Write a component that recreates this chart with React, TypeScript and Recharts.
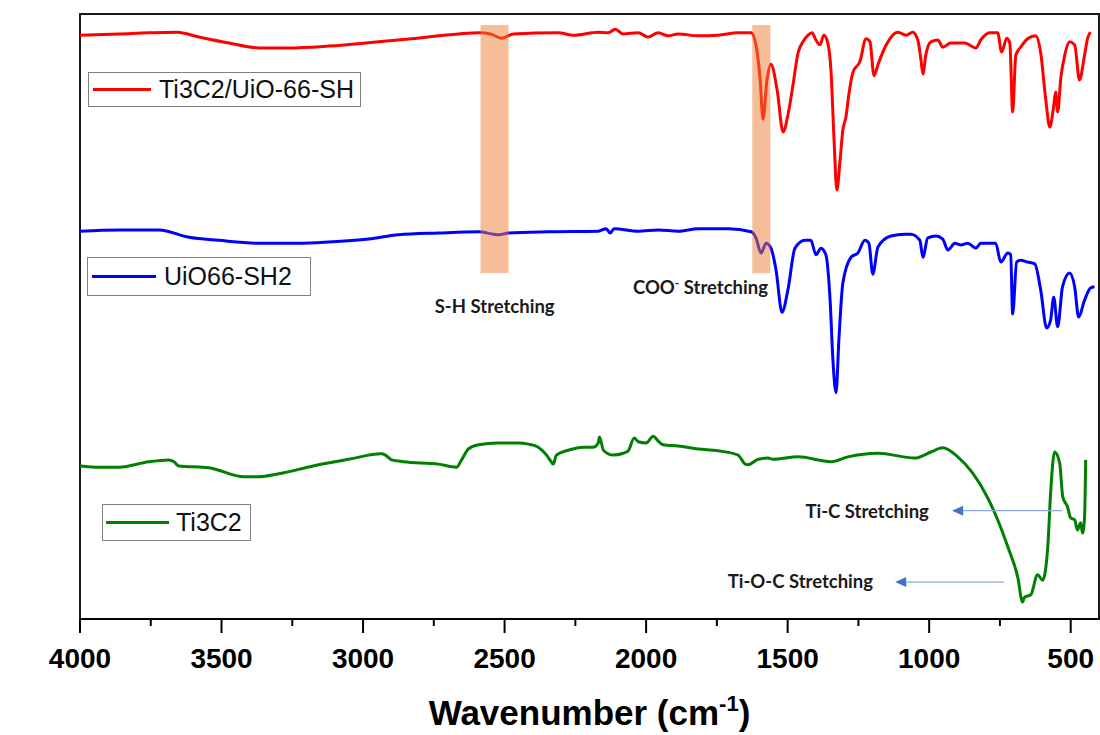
import React from "react";
import {
  LineChart,
  Line,
  XAxis,
  YAxis,
  ReferenceArea,
  ReferenceLine,
  ReferenceDot,
} from "recharts";

// FTIR spectra, wavenumber (cm-1) vs. offset transmittance (%T, stacked)
const compositeWn = [
  4000, 3862, 3757, 3658, 3580, 3474, 3368, 3263, 3122, 2945, 2829, 2663, 2592, 2550, 2511, 2469,
  2310, 2257, 2169, 2134, 2109, 2081, 2028, 1993, 1957, 1922, 1887, 1816, 1746, 1675, 1629, 1612,
  1597, 1587, 1573, 1559, 1537, 1516, 1499, 1481, 1463, 1446, 1428, 1414, 1400, 1386, 1372, 1358,
  1347, 1336, 1326, 1315, 1305, 1294, 1284, 1269, 1245, 1223, 1209, 1195, 1181, 1156, 1111, 1082,
  1058, 1040, 1029, 1022, 1012, 994, 969, 952, 924, 874, 835, 818, 786, 758, 744, 726, 715, 705,
  694, 677, 652, 624, 606, 588, 574, 560, 553, 546, 535, 521, 504, 486, 469, 451, 440, 430,
];
const compositeT = [
  96.5, 96.7, 96.9, 97.0, 96.2, 95.2, 94.4, 94.4, 94.7, 95.4, 95.9, 96.7, 96.9, 96.7, 96.0, 96.7,
  96.9, 96.5, 97.0, 96.9, 97.5, 96.7, 96.9, 96.2, 96.9, 96.4, 96.7, 96.4, 96.5, 96.9, 96.9, 94.9,
  89.1, 82.6, 89.1, 91.7, 87.4, 80.5, 83.3, 88.3, 93.6, 95.4, 96.5, 96.9, 95.7, 94.9, 96.5, 95.2,
  90.7, 79.2, 70.9, 75.7, 80.8, 83.0, 86.6, 90.4, 92.1, 95.9, 95.4, 89.8, 91.6, 94.5, 97.0, 96.5,
  97.0, 95.7, 92.4, 90.1, 93.2, 95.4, 95.7, 94.5, 95.2, 95.2, 94.4, 95.7, 96.9, 96.9, 93.7, 96.0,
  95.2, 83.8, 93.2, 94.5, 95.9, 96.4, 93.6, 85.8, 81.3, 84.8, 87.1, 83.8, 89.4, 93.2, 95.4, 94.9,
  89.1, 93.2, 96.0, 97.0,
];

const uioWn = [
  4000, 3862, 3721, 3615, 3510, 3361, 3227, 3122, 2980, 2875, 2733, 2592, 2539, 2522, 2486, 2345,
  2169, 2141, 2127, 2113, 2028, 1957, 1887, 1816, 1710, 1629, 1612, 1594, 1576, 1559, 1541, 1520,
  1499, 1474, 1439, 1418, 1400, 1382, 1365, 1350, 1340, 1329, 1319, 1305, 1276, 1252, 1227, 1213,
  1199, 1181, 1135, 1086, 1065, 1033, 1022, 1005, 976, 952, 934, 909, 888, 864, 835, 818, 765, 747,
  722, 712, 705, 691, 677, 652, 627, 606, 585, 571, 560, 546, 529, 504, 486, 472, 451, 430, 416,
];
const uioT = [
  64.1, 64.3, 64.3, 63.1, 62.6, 62.1, 62.1, 62.3, 62.8, 63.5, 63.8, 64.0, 63.6, 63.5, 63.8, 64.0,
  64.1, 64.5, 63.8, 64.5, 64.1, 64.3, 64.1, 64.5, 64.5, 64.0, 63.0, 60.5, 62.1, 61.3, 57.7, 50.7,
  54.4, 61.3, 62.6, 62.6, 60.2, 61.3, 60.2, 52.7, 42.8, 37.4, 46.1, 55.5, 59.8, 60.5, 62.6, 62.1,
  57.0, 61.5, 63.3, 63.6, 63.6, 62.6, 59.8, 63.0, 63.3, 62.8, 61.0, 62.1, 61.8, 62.1, 61.3, 62.1,
  62.1, 59.0, 60.5, 60.2, 50.4, 59.0, 59.3, 59.0, 58.7, 54.4, 48.1, 49.4, 53.2, 48.3, 54.9, 57.2,
  54.9, 49.9, 52.7, 54.7, 54.9,
];

const mxeneWn = [
  4000, 3933, 3862, 3757, 3686, 3668, 3651, 3545, 3421, 3368, 3298, 3157, 3051, 2935, 2921, 2899,
  2857, 2733, 2670, 2652, 2628, 2592, 2522, 2451, 2416, 2381, 2352, 2335, 2328, 2317, 2275, 2222,
  2187, 2169, 2165, 2158, 2151, 2116, 2081, 2063, 2042, 2028, 2000, 1975, 1957, 1940, 1887, 1816,
  1746, 1675, 1650, 1640, 1604, 1569, 1552, 1463, 1347, 1287, 1181, 1051, 994, 952, 899, 846, 793,
  758, 722, 687, 670, 663, 641, 617, 599, 581, 571, 557, 539, 528, 511, 500, 486, 476, 465, 458,
  451, 447,
];
const mxeneT = [
  25.3, 25.1, 25.1, 26.0, 26.3, 26.0, 25.3, 25.0, 23.5, 23.5, 24.0, 25.5, 26.4, 27.3, 27.1, 26.3,
  26.0, 25.6, 25.1, 26.3, 28.1, 28.8, 29.1, 29.1, 28.9, 28.4, 27.1, 26.0, 25.6, 27.1, 27.9, 28.4,
  28.4, 29.1, 30.1, 29.1, 27.9, 27.1, 27.4, 27.8, 29.9, 29.3, 29.1, 30.2, 29.4, 28.8, 28.6, 28.1,
  27.8, 27.1, 25.6, 25.5, 26.4, 26.6, 26.4, 26.8, 26.0, 26.8, 27.4, 26.6, 27.6, 28.3, 26.8, 24.1,
  20.0, 16.4, 11.9, 6.9, 2.8, 3.6, 4.0, 7.3, 6.4, 11.9, 20.8, 27.6, 25.8, 20.2, 18.5, 16.7, 16.4,
  14.7, 15.9, 14.2, 16.9, 26.3,
];

const majorTicks = [4000, 3500, 3000, 2500, 2000, 1500, 1000, 500];
const allTicks = [4000, 3750, 3500, 3250, 3000, 2750, 2500, 2250, 2000, 1750, 1500, 1250, 1000, 750, 500];

// plotted window
const wnRange = [400, 4000];
const tRange = [0, 100];

// highlighted bands (cm-1) and the %T span they cover
const shBand = [2585, 2486];
const cooBand = [1625, 1561];
const bandT = [57.2, 98.2];

const zip = (wn: number[], t: number[]) => wn.map((w, i) => ({ wn: w, t: t[i] }));
const compositeData = zip(compositeWn, compositeT);
const uioData = zip(uioWn, uioT);
const mxeneData = zip(mxeneWn, mxeneT);

const ARIAL = "'Liberation Sans', Arial, sans-serif";
const NOTE_FONT = "Lato, 'Open Sans', sans-serif";

const AxisTick = (props: any) => {
  const { x, y, payload } = props;
  const major = majorTicks.includes(payload.value);
  return (
    <g>
      <line x1={x} x2={x} y1={y} y2={y + (major ? 14 : 7)} stroke="#000" strokeWidth={2} />
      {major && (
        <text
          x={x}
          y={y + 49}
          textAnchor="middle"
          fontFamily={ARIAL}
          fontWeight="bold"
          fontSize={28}
          fill="#000"
        >
          {payload.value}
        </text>
      )}
    </g>
  );
};

const Arrow = (props: any) => {
  const { x1, y1, x2, y2 } = props;
  // shaft from the first point, head at the second
  const dir = x2 < x1 ? -1 : 1;
  const baseX = x2 - dir * 11;
  return (
    <g>
      <line x1={x1} y1={y1} x2={baseX} y2={y2} stroke="#8FAADC" strokeWidth={1.2} />
      <polygon points={`${x2},${y2} ${baseX},${y2 - 5} ${baseX},${y2 + 5}`} fill="#4472C4" />
    </g>
  );
};

const note = (text: React.ReactNode) => (props: any) => (
  <text
    x={props.cx}
    y={props.cy}
    textAnchor="middle"
    fontFamily={NOTE_FONT}
    fontWeight="bold"
    fontSize={18.5}
    fill="#1a1a1a"
  >
    {text}
  </text>
);

const LegendBox = ({
  left,
  top,
  width,
  height,
  color,
  lineLeft,
  lineWidth,
  textLeft,
  label,
}: {
  left: number;
  top: number;
  width: number;
  height: number;
  color: string;
  lineLeft: number;
  lineWidth: number;
  textLeft: number;
  label: string;
}) => (
  <div
    style={{
      position: "absolute",
      left,
      top,
      width,
      height,
      boxSizing: "border-box",
      border: "1px solid #808080",
      background: "#fff",
    }}
  >
    <div
      style={{
        position: "absolute",
        left: lineLeft,
        top: height / 2 - 2.5,
        width: lineWidth,
        height: 3,
        background: color,
      }}
    />
    <div
      style={{
        position: "absolute",
        left: textLeft,
        top: 0,
        height: height - 2,
        lineHeight: `${height - 2}px`,
        fontFamily: ARIAL,
        fontSize: 25,
        color: "#111",
        whiteSpace: "nowrap",
      }}
    >
      {label}
    </div>
  </div>
);

export default function App() {
  return (
    <div style={{ position: "absolute", left: 0, top: 0, width: 1100, height: 735, background: "#fff" }}>
      <LineChart width={1100} height={735} margin={{ top: 14, right: 1, bottom: 0, left: 80 }}>
        <XAxis
          dataKey="wn"
          type="number"
          domain={wnRange}
          reversed
          allowDataOverflow
          ticks={allTicks}
          interval={0}
          tickSize={0}
          tickMargin={0}
          tickLine={false}
          tick={<AxisTick />}
          height={116}
          axisLine={{ stroke: "#000", strokeWidth: 2 }}
          label={{
            content: (p: any) => {
              const vb = p.viewBox;
              return (
                <text
                  x={vb.x + vb.width / 2}
                  y={vb.y + 106}
                  textAnchor="middle"
                  fontFamily={ARIAL}
                  fontWeight="bold"
                  fontSize={35}
                  fill="#000"
                >
                  Wavenumber (cm
                  <tspan fontSize={22} dy={-14}>-1</tspan>
                  <tspan dy={14}>)</tspan>
                </text>
              );
            },
          }}
        />
        <YAxis
          type="number"
          domain={tRange}
          width={0}
          tick={false}
          tickLine={false}
          axisLine={{ stroke: "#000", strokeWidth: 2.5 }}
          label={{
            content: (p: any) => {
              const vb = p.viewBox;
              return (
                <text
                  x={27}
                  y={vb.y + 276}
                  transform={`rotate(-90, 27, ${vb.y + 276})`}
                  textAnchor="middle"
                  dominantBaseline="central"
                  fontFamily={ARIAL}
                  fontWeight="bold"
                  fontSize={36}
                  fill="#000"
                >
                  %T
                </text>
              );
            },
          }}
        />

        {/* plot frame */}
        <ReferenceArea
          x1={wnRange[0]}
          x2={wnRange[1]}
          y1={tRange[0]}
          y2={tRange[1]}
          fill="none"
          stroke="#1a1a1a"
          strokeWidth={2}
        />

        <Line
          data={compositeData}
          dataKey="t"
          type="monotone"
          stroke="#FF0000"
          strokeWidth={3}
          dot={false}
          isAnimationActive={false}
        />
        <Line
          data={uioData}
          dataKey="t"
          type="monotone"
          stroke="#0000FF"
          strokeWidth={3}
          dot={false}
          isAnimationActive={false}
        />
        <Line
          data={mxeneData}
          dataKey="t"
          type="monotone"
          stroke="#008000"
          strokeWidth={3}
          dot={false}
          isAnimationActive={false}
        />

        <ReferenceArea
          x1={shBand[0]}
          x2={shBand[1]}
          y1={bandT[0]}
          y2={bandT[1]}
          fill="#ED7D31"
          fillOpacity={0.5}
          stroke="none"
          zIndex={1500}
        />
        <ReferenceArea
          x1={cooBand[0]}
          x2={cooBand[1]}
          y1={bandT[0]}
          y2={bandT[1]}
          fill="#ED7D31"
          fillOpacity={0.5}
          stroke="none"
          zIndex={1500}
        />

        <ReferenceLine
          segment={[
            { x: 531, y: 17.9 },
            { x: 919, y: 17.9 },
          ]}
          shape={<Arrow />}
        />
        <ReferenceLine
          segment={[
            { x: 735, y: 6.1 },
            { x: 1120, y: 6.1 },
          ]}
          shape={<Arrow />}
        />

        <ReferenceDot x={2535} y={50.6} r={0} shape={note("S-H Stretching")} />
        <ReferenceDot
          x={1808}
          y={53.7}
          r={0}
          shape={note(
            <>
              COO
              <tspan fontSize={12} dy={-7}>-</tspan>
              <tspan dy={7}> Stretching</tspan>
            </>
          )}
        />
        <ReferenceDot x={1219} y={16.7} r={0} shape={note("Ti-C Stretching")} />
        <ReferenceDot x={1455} y={5.1} r={0} shape={note("Ti-O-C Stretching")} />
      </LineChart>

      <LegendBox left={88} top={72} width={273} height={35} color="#FF0000" lineLeft={4} lineWidth={58} textLeft={70} label="Ti3C2/UiO-66-SH" />
      <LegendBox left={87} top={257} width={224} height={39} color="#0000FF" lineLeft={4} lineWidth={64} textLeft={76} label="UiO66-SH2" />
      <LegendBox left={102} top={504} width={149} height={37} color="#008000" lineLeft={3} lineWidth={63} textLeft={73} label="Ti3C2" />
    </div>
  );
}
